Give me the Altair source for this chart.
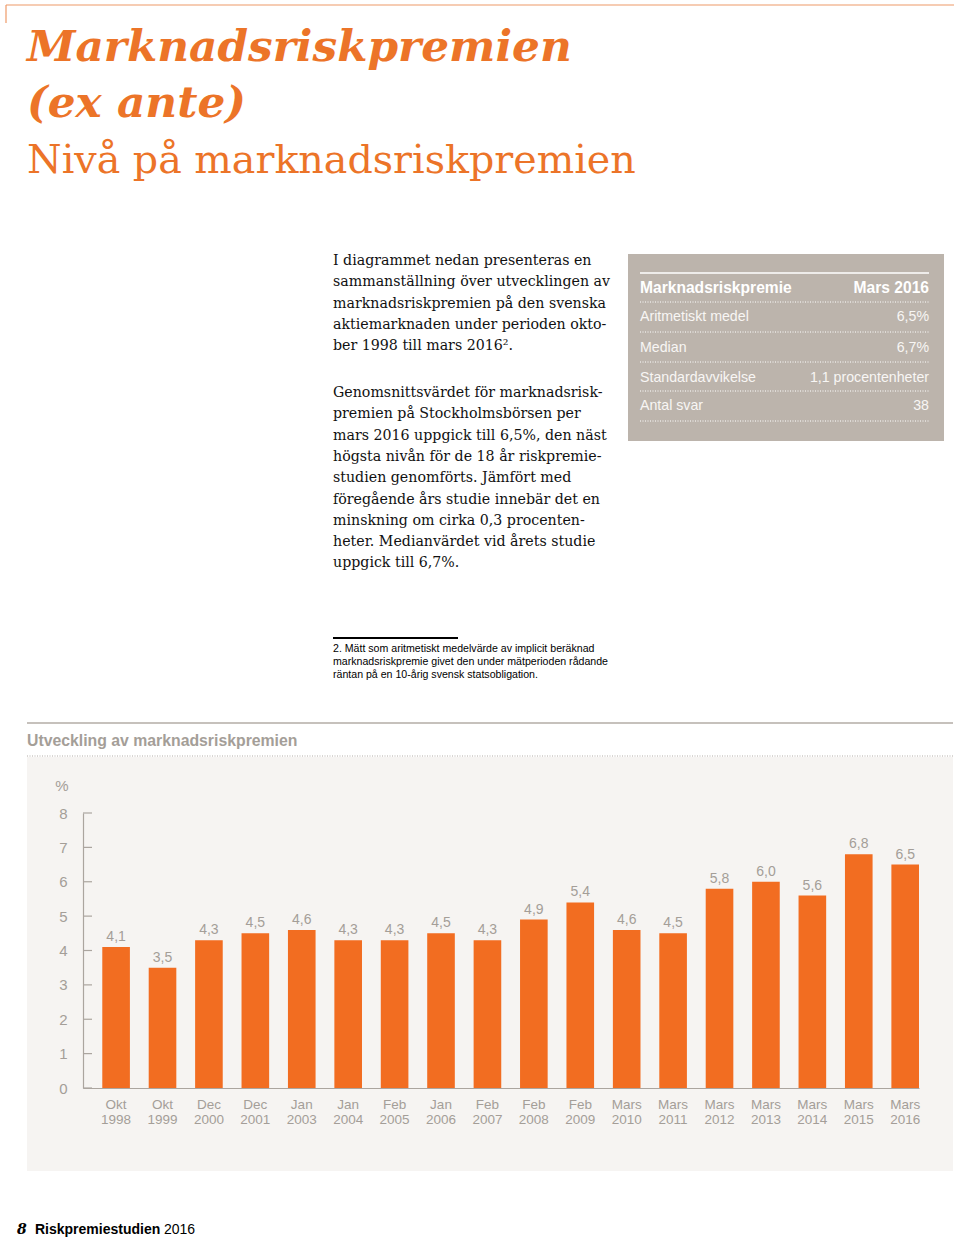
import altair as alt
import pandas as pd

# ---------------- data ----------------
PERIODS = ["Okt 1998", "Okt 1999", "Dec 2000", "Dec 2001", "Jan 2003", "Jan 2004",
           "Feb 2005", "Jan 2006", "Feb 2007", "Feb 2008", "Feb 2009", "Mars 2010",
           "Mars 2011", "Mars 2012", "Mars 2013", "Mars 2014", "Mars 2015", "Mars 2016"]
PREMIUM = [4.1, 3.5, 4.3, 4.5, 4.6, 4.3, 4.3, 4.5, 4.3, 4.9, 5.4, 4.6, 4.5, 5.8, 6.0, 5.6, 6.8, 6.5]
Y_TICKS = [0, 1, 2, 3, 4, 5, 6, 7, 8]

TABLE_HEAD = ["Marknadsriskpremie", "Mars 2016"]
TABLE_LABELS = ["Aritmetiskt medel", "Median", "Standardavvikelse", "Antal svar"]
TABLE_VALUES = ["6,5%", "6,7%", "1,1 procentenheter", "38"]

TITLE_1 = "Marknadsriskpremien"
TITLE_2 = "(ex ante)"
TITLE_3 = "Nivå på marknadsriskpremien"
PARA_1 = ("I diagrammet nedan presenteras en\nsammanställning över utvecklingen av\n"
          "marknadsriskpremien på den svenska\naktiemarknaden under perioden okto-\n"
          "ber 1998 till mars 2016².")
PARA_2 = ("Genomsnittsvärdet för marknadsrisk-\npremien på Stockholmsbörsen per\n"
          "mars 2016 uppgick till 6,5%, den näst\nhögsta nivån för de 18 år riskpremie-\n"
          "studien genomförts. Jämfört med\nföregående års studie innebär det en\n"
          "minskning om cirka 0,3 procenten-\nheter. Medianvärdet vid årets studie\n"
          "uppgick till 6,7%.")
FOOTNOTE = ("2. Mätt som aritmetiskt medelvärde av implicit beräknad\n"
            "marknadsriskpremie givet den under mätperioden rådande\n"
            "räntan på en 10-årig svensk statsobligation.")
CHART_TITLE = "Utveckling av marknadsriskpremien"
UNIT = "%"
FOOTER_NUM = "8"
FOOTER_BOLD = "Riskpremiestudien"
FOOTER_YEAR = "2016"

# ---------------- style ----------------
ORANGE = "#F26D21"
TITLE_ORANGE = "#EC7428"
GRAY = "#A49E98"
AXIS_GRAY = "#ABA59F"
TABLE_BG = "#BCB4AC"
PANEL_BG = "#F6F4F2"
SANS = "Liberation Sans"
SERIF = "DejaVu Serif"

OX, OY = 83, 813          # page position of plot origin
W, H = 836, 275           # plot area


def txt(s, x, y, size, color, font=SANS, weight="normal", style="normal",
        align="left", baseline="alphabetic", lh=None):
    kw = dict(fontSize=size, color=color, font=font, fontWeight=weight,
              fontStyle=style, align=align, baseline=baseline)
    if lh:
        kw.update(lineBreak="\n", lineHeight=lh)
    return alt.Chart(alt.Data(values=[{"t": s}])).mark_text(**kw).encode(
        x=alt.value(x - OX), y=alt.value(y - OY), text="t:N")


def hrule(x1, x2, y, color, width=1.0, dash=None):
    kw = dict(color=color, strokeWidth=width)
    if dash:
        kw["strokeDash"] = dash
    return alt.Chart(alt.Data(values=[{"k": 0}])).mark_rule(**kw).encode(
        x=alt.value(x1 - OX), x2=alt.value(x2 - OX), y=alt.value(y - OY))


def vrule(x, y1, y2, color, width=1.0):
    return alt.Chart(alt.Data(values=[{"k": 0}])).mark_rule(color=color, strokeWidth=width).encode(
        x=alt.value(x - OX), y=alt.value(y1 - OY), y2=alt.value(y2 - OY))


def box(x1, x2, y1, y2, color):
    return alt.Chart(alt.Data(values=[{"k": 0}])).mark_rect(color=color).encode(
        x=alt.value(x1 - OX), x2=alt.value(x2 - OX), y=alt.value(y1 - OY), y2=alt.value(y2 - OY))


layers = []
# page border
layers.append(hrule(6, 954, 5, "#EE9A68", 1.2))
layers.append(vrule(6, 5, 23, "#EE9A68", 1.2))
# titles
layers.append(txt(TITLE_1, 27, 61, 43.8, TITLE_ORANGE, SERIF, "bold", "italic"))
layers.append(txt(TITLE_2, 27, 117, 43.8, TITLE_ORANGE, SERIF, "bold", "italic"))
layers.append(txt(TITLE_3, 27, 173, 39.6, TITLE_ORANGE, SERIF))
# body
layers.append(txt(PARA_1, 333, 265, 14.2, "#111111", SERIF, lh=21.3))
layers.append(txt(PARA_2, 333, 397, 14.2, "#111111", SERIF, lh=21.3))
# table box
layers.append(box(628, 944, 254, 441, TABLE_BG))
layers.append(hrule(640, 929, 273, "white", 1.5))
layers.append(txt(TABLE_HEAD[0], 640, 293, 15.6, "white", SANS, "bold"))
layers.append(txt(TABLE_HEAD[1], 929, 293, 15.6, "white", SANS, "bold", align="right"))
ROW_Y = [321, 352, 382, 410]
DOT_Y = [302, 332, 362, 391, 421]
for yy in DOT_Y:
    layers.append(hrule(640, 929, yy, "white", 1.0, [1, 1.5]))
for lab, val, yy in zip(TABLE_LABELS, TABLE_VALUES, ROW_Y):
    layers.append(txt(lab, 640, yy, 14.2, "#F8F6F4", SANS))
    layers.append(txt(val, 929, yy, 14.2, "#F8F6F4", SANS, align="right"))
# footnote
layers.append(hrule(333, 458, 638, "black", 2))
layers.append(txt(FOOTNOTE, 333, 652, 10.6, "black", SANS, lh=12.8))
# chart header and panel
layers.append(hrule(27, 953, 723, "#B3ACA6", 1.5))
layers.append(txt(CHART_TITLE, 27, 746, 15.8, GRAY, SANS, "bold"))
layers.append(hrule(27, 953, 756, "#B3ACA6", 1.0, [1, 1.5]))
layers.append(box(27, 953, 757, 1171, PANEL_BG))
layers.append(txt(UNIT, 62, 786, 15, GRAY, SANS, align="center", baseline="middle"))
# footer
layers.append(txt(FOOTER_NUM, 17, 1234, 14, "black", SERIF, "bold", "italic"))
layers.append(txt(FOOTER_BOLD, 35, 1234, 14, "black", SANS, "bold"))
layers.append(txt(FOOTER_YEAR, 164, 1234, 14, "black", SANS))

# ---------------- chart ----------------
df = pd.DataFrame({"period": PERIODS, "value": PREMIUM})

x_enc = alt.X("period:N", sort=PERIODS, title=None,
              scale=alt.Scale(paddingInner=0.405, paddingOuter=0.2077, align=1),
              axis=alt.Axis(labelAngle=0, labelExpr="split(datum.label, ' ')",
                            labelLineHeight=15, labelFontSize=13.5, labelColor=GRAY,
                            labelFont=SANS, labelBaseline="top", labelPadding=9,
                            labelOverlap=False, ticks=False, domainColor=AXIS_GRAY,
                            domainWidth=1.2, zindex=1))
y_enc = alt.Y("value:Q", title=None,
              scale=alt.Scale(domain=[0, 8], nice=False),
              axis=alt.Axis(values=Y_TICKS, tickCount=9, labelFontSize=15, labelColor=GRAY,
                            labelFont=SANS, labelPadding=16, labelOverlap=False,
                            labelFlush=False, labelBound=False, ticks=False, grid=False,
                            domainColor=AXIS_GRAY, domainWidth=1.2, zindex=1))

bars = alt.Chart(df).mark_bar(color=ORANGE).encode(x=x_enc, y=y_enc)
labels = alt.Chart(df).transform_calculate(
    lbl="replace(format(datum.value, '.1f'), '.', ',')"
).mark_text(fontSize=14, color=GRAY, font=SANS, baseline="alphabetic", dy=-6).encode(
    x=x_enc, y=y_enc, text="lbl:N")
ticks = alt.Chart(pd.DataFrame({"value": Y_TICKS})).mark_rule(
    color=AXIS_GRAY, strokeWidth=1.2).encode(
    y=y_enc, x=alt.value(0), x2=alt.value(9))

layers += [bars, labels, ticks]

chart = alt.layer(*layers).properties(
    width=W, height=H,
    padding={"left": OX, "top": OY, "right": 960 - OX - W, "bottom": 1240 - OY - H},
    autosize=alt.AutoSizeParams(type="none"),
    background="white",
).configure_view(strokeWidth=0)

chart.save("out.html", embed_options={"renderer": "svg", "actions": False})
